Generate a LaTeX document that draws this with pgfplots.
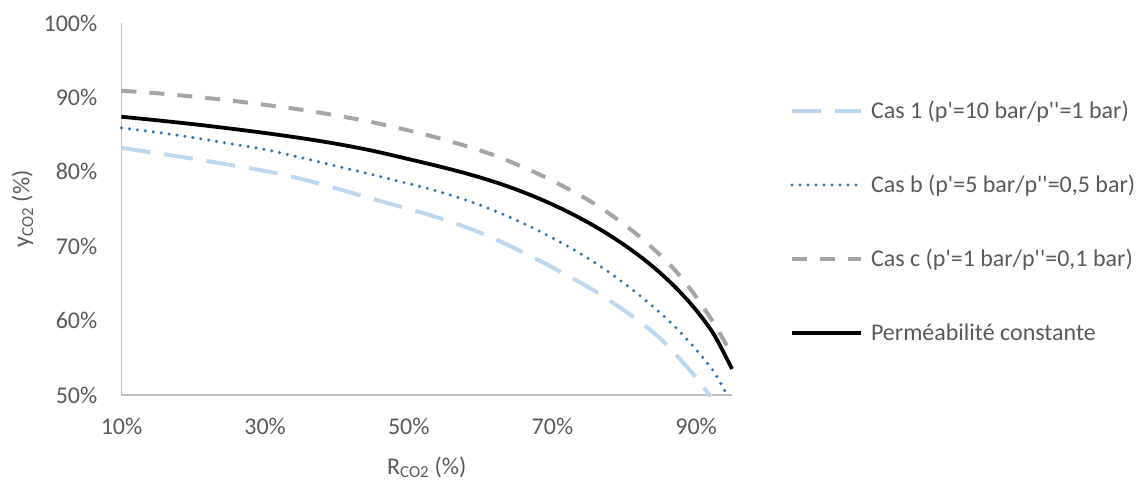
\documentclass[border=0pt]{standalone}
\usepackage{pgfplots}
\pgfplotsset{compat=1.18}
\usepackage{fontspec}
\setmainfont{Carlito}[Ligatures=TeXOff]
\definecolor{txt}{HTML}{595959}
\definecolor{axgray}{HTML}{BFBFBF}
\definecolor{lblue}{HTML}{BDD7EE}
\definecolor{dblue}{HTML}{2E75B6}
\definecolor{mgray}{HTML}{A5A5A5}
\begin{document}
\fontsize{24}{28}\selectfont
\begin{tikzpicture}
\begin{axis}[
  at={(0pt,0pt)}, anchor=south west,
  scale only axis, width=610.5pt, height=372pt,
  xmin=10, xmax=95, ymin=50, ymax=100,
  axis x line*=bottom, axis y line*=left,
  axis line style={draw=axgray, line width=1.3pt},
  major tick length=0pt,
  xtick={10,30,50,70,90},
  xticklabels={10\%,30\%,50\%,70\%,90\%},
  ytick={50,60,70,80,90,100},
  yticklabels={50\%,60\%,70\%,80\%,90\%,100\%},
  xticklabel style={inner sep=0pt, anchor=north, yshift=-23pt, text=txt},
  yticklabel style={inner sep=0pt, anchor=east, xshift=-24pt, text=txt},
  every axis x label/.style={at={(axis description cs:0.5,-0.2124)}, anchor=base, text=txt},
  every axis y label/.style={at={(axis description cs:-0.162,0.5)}, anchor=center, rotate=90, text=txt},
  xlabel={R\textsubscript{CO2} (\%)},
  ylabel={y\textsubscript{CO2} (\%)},
  clip=false,
  legend cell align=left,
  legend image code/.code={\draw[#1] (0pt,0pt) -- (69pt,0pt);},
  legend style={
    at={(axis description cs:1.095,0.793)}, anchor=north west,
    draw=none, fill=none, inner sep=0pt, outer sep=0pt,
    font=\fontsize{24}{28}\selectfont, text=txt,
    row sep=52pt, column sep=8pt,
    nodes={inner sep=0pt, text height=18pt, text depth=4pt},
  },
]
\addplot[lblue, line width=4pt, dash pattern=on 29pt off 14pt, smooth] coordinates {
(10,83.2) (15,82.5) (20,81.75) (25,80.95) (30,80.1) (35,79.05) (40,77.75) (45,76.35) (50,75.0) (52.5,74.3) (55,73.55) (57.5,72.7) (60,71.8) (62.5,70.75) (65,69.6) (67.5,68.4) (70,67.15) (72.5,65.85) (75,64.5) (77.5,63.0) (80,61.35) (82.5,59.6) (85,57.6) (87.5,55.1) (90,52.35) (92,49.8)
};
\addlegendentry{Cas 1 (p'=10 bar/p''=1 bar)}
\addplot[dblue, line width=3.4pt, line cap=round, dash pattern=on 0pt off 8pt, smooth] coordinates {
(10,85.9) (15,85.3) (20,84.6) (25,83.8) (30,83.0) (35,81.9) (40,80.75) (45,79.6) (50,78.4) (52.5,77.8) (55,77.1) (57.5,76.35) (60,75.5) (62.5,74.55) (65,73.5) (67.5,72.35) (70,71.1) (72.5,69.8) (75,68.35) (77.5,66.75) (80,65.0) (82.5,63.1) (85,61.05) (87.5,58.75) (90,56.1) (92.5,53.1) (94.3,50.0)
};
\addlegendentry{Cas b (p'=5 bar/p''=0,5 bar)}
\addplot[mgray, line width=4pt, dash pattern=on 15pt off 13pt, smooth] coordinates {
(10,90.9) (15,90.55) (20,90.1) (25,89.6) (30,89.0) (35,88.35) (40,87.55) (45,86.65) (50,85.55) (52.5,84.95) (55,84.3) (57.5,83.6) (60,82.85) (62.5,82.0) (65,81.0) (67.5,79.95) (70,78.8) (72.5,77.55) (75,76.2) (77.5,74.65) (80,72.9) (82.5,71.0) (85,68.8) (87.5,66.3) (90,63.2) (92.5,59.6) (95,55.4)
};
\addlegendentry{Cas c (p'=1 bar/p''=0,1 bar)}
\addplot[black, line width=3.8pt, smooth] coordinates {
(10,87.4) (15,86.92) (20,86.4) (25,85.83) (30,85.21) (35,84.53) (40,83.75) (45,82.82) (50,81.7) (52.5,81.13) (55,80.54) (57.5,79.91) (60,79.22) (62.5,78.46) (65,77.61) (67.5,76.66) (70,75.61) (72.5,74.45) (75,73.17) (77.5,71.75) (80,70.17) (82.5,68.41) (85,66.41) (87.5,64.11) (90,61.41) (92.5,58.11) (95,53.5)
};
\addlegendentry{Perméabilité constante}
\end{axis}
\path[use as bounding box] (-121.5pt,-84pt) rectangle (1015.5pt,395pt);
\end{tikzpicture}
\end{document}
